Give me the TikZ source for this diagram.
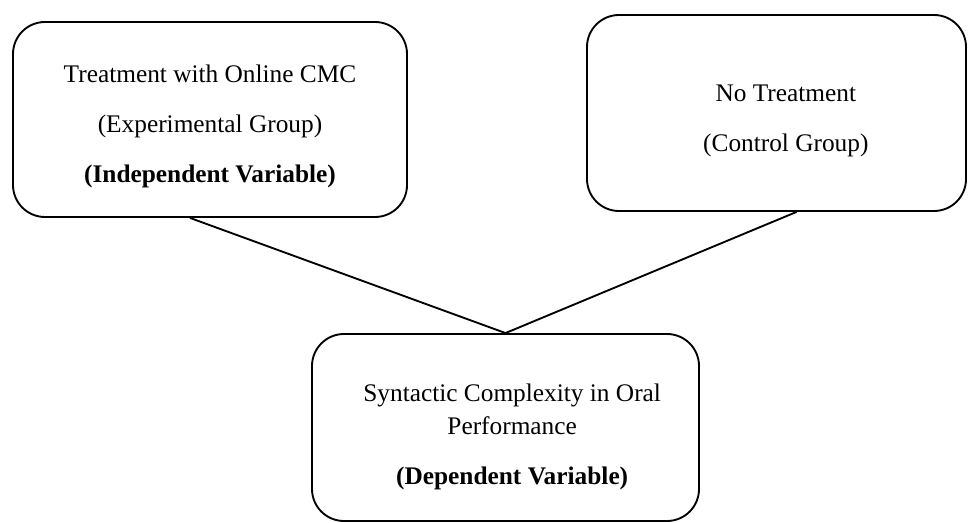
\documentclass[tikz,border=0pt]{standalone}
\usepackage{fontspec}
\setmainfont{Liberation Serif}
\usetikzlibrary{positioning}
\newcommand\topgap[1]{\rule{0pt}{#1}}

\begin{document}
\begin{tikzpicture}[
  x=0.75pt,y=-0.75pt,
  every node/.style={font=\fontsize{19}{37.5}\selectfont},
  varbox/.style={draw,line width=1.4pt,rounded corners=24pt,
    align=center,inner sep=0pt},
  link/.style={line width=1.4pt}
]
  \useasboundingbox (0,0) rectangle (969,523);

  \node[varbox,minimum width=295.5pt,minimum height=146.25pt] (treat) at (210,119.5)
    {\topgap{23.5pt}Treatment with Online CMC\\(Experimental Group)\\\textbf{(Independent Variable)}};
  \node[varbox,minimum width=284.25pt,minimum height=147pt] (notreat) at (776.5,113)
    {\topgap{25pt}\hspace*{14pt}No Treatment\\\hspace*{14pt}(Control Group)};
  \node[varbox,minimum width=290.25pt,minimum height=140.25pt,
    font=\fontsize{19}{24.75}\selectfont] (syntax) at (505.5,427.5)
    {\topgap{28pt}\hspace*{10pt}Syntactic Complexity in Oral\\\hspace*{10pt}Performance\\[12.75pt]
     \hspace*{10pt}\textbf{(Dependent Variable)}};

  \draw[link] ([xshift=-15pt]treat.south) -- (syntax.north);
  \draw[link] ([xshift=15pt]notreat.south) -- (syntax.north);
\end{tikzpicture}
\end{document}
